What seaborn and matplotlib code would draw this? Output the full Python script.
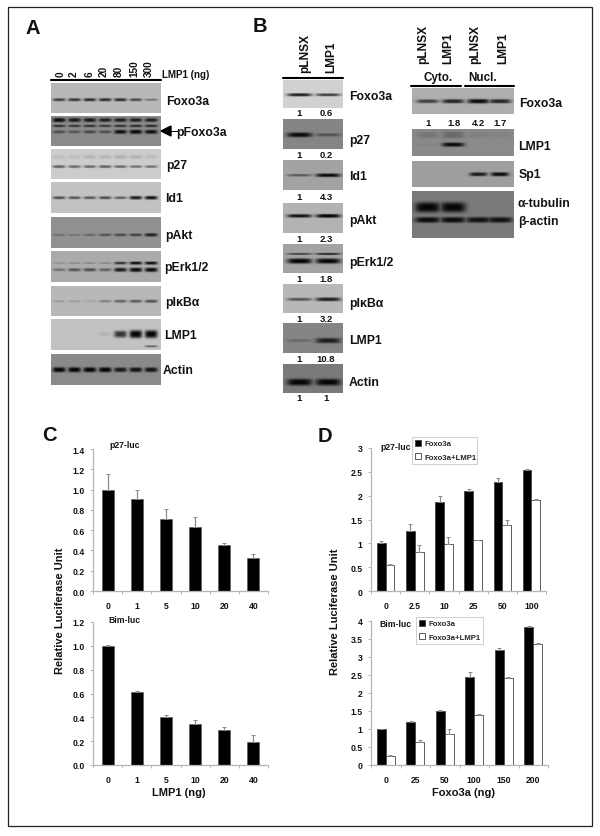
import numpy as np
import pandas as pd
import seaborn as sns
import matplotlib
matplotlib.use('Agg')
import matplotlib.pyplot as plt
from matplotlib.patches import Rectangle, Polygon
from matplotlib.lines import Line2D

W, H = 600, 837

#-----chart values--------------------------------------------------------
lmp1_doses = ['0', '1', '5', '10', '20', '40']
c_p27 = [1.0, 0.91, 0.71, 0.635, 0.45, 0.33]
c_p27_err = [0.15, 0.09, 0.10, 0.09, 0.02, 0.03]
c_bim = [1.0, 0.61, 0.405, 0.345, 0.295, 0.195]
c_bim_err = [0.005, 0.01, 0.015, 0.03, 0.025, 0.06]

d_p27_doses = ['0', '2.5', '10', '25', '50', '100']
d_p27_foxo = [1.0, 1.26, 1.87, 2.1, 2.28, 2.53]
d_p27_foxo_err = [0.04, 0.14, 0.13, 0.05, 0.09, 0.03]
d_p27_lmp = [0.54, 0.81, 0.98, 1.06, 1.38, 1.91]
d_p27_lmp_err = [0.02, 0.16, 0.15, 0.02, 0.10, 0.02]

d_bim_doses = ['0', '25', '50', '100', '150', '200']
d_bim_foxo = [1.0, 1.2, 1.5, 2.44, 3.19, 3.82]
d_bim_foxo_err = [0.01, 0.02, 0.03, 0.15, 0.06, 0.03]
d_bim_lmp = [0.26, 0.63, 0.86, 1.38, 2.43, 3.37]
d_bim_lmp_err = [0.03, 0.06, 0.13, 0.03, 0.02, 0.01]

#-----blot values: band darkness per lane----------------------------------
a_lanes = [0.07, 0.21, 0.35, 0.49, 0.63, 0.77, 0.91]
a_lane_labels = ['0', '2', '6', '20', '80', '150', '300']
a_foxo3a = [0.65, 0.7, 0.75, 0.75, 0.75, 0.6, 0.35]
a_pfoxo_top = [0.95, 0.85, 0.85, 0.8, 0.8, 0.8, 0.8]
a_pfoxo_mid = [0.65, 0.6, 0.65, 0.6, 0.65, 0.7, 0.7]
a_pfoxo_low = [0.45, 0.4, 0.5, 0.45, 0.9, 0.95, 0.9]
a_p27 = [0.55, 0.5, 0.5, 0.55, 0.5, 0.45, 0.45]
a_p27_faint = [0.08, 0.08, 0.12, 0.12, 0.14, 0.12, 0.08]
a_id1 = [0.6, 0.55, 0.55, 0.6, 0.5, 0.85, 0.9]
a_pakt = [0.25, 0.22, 0.3, 0.45, 0.5, 0.55, 0.8]
a_perk_top = [0.15, 0.18, 0.2, 0.2, 0.7, 0.9, 0.9]
a_perk_low = [0.35, 0.5, 0.55, 0.45, 0.85, 0.95, 0.95]
a_pikb = [0.15, 0.15, 0.1, 0.3, 0.45, 0.5, 0.55]
a_lmp1 = [0.0, 0.0, 0.0, 0.08, 0.75, 1.0, 1.0]
a_lmp1_low = [0.0, 0.0, 0.0, 0.0, 0.0, 0.0, 0.45]
a_actin = [1.0, 1.0, 1.0, 1.0, 0.85, 0.9, 0.9]

b_lanes = [0.27, 0.75]
b_foxo3a = [0.85, 0.7]
b_p27 = [0.95, 0.4]
b_id1 = [0.45, 0.95]
b_pakt = [0.9, 1.0]
b_perk_top = [0.6, 0.75]
b_perk_low = [1.0, 1.0]
b_pikb = [0.55, 0.85]
b_lmp1 = [0.2, 0.8]
b_actin = [1.0, 1.0]
b_numbers = [['1', '0.6'], ['1', '0.2'], ['1', '4.3'], ['1', '2.3'],
             ['1', '1.8'], ['1', '3.2'], ['1', '10.8'], ['1', '1']]

f_lanes = [0.15, 0.40, 0.65, 0.86]
f_foxo3a = [0.65, 0.8, 0.95, 0.8]
f_numbers = ['1', '1.8', '4.2', '1.7']
f_lmp1 = [0.05, 0.95, 0.0, 0.0]
f_lmp1_faint = [0.15, 0.25, 0.08, 0.05]
f_sp1 = [0.0, 0.0, 0.85, 0.95]
f_tubulin = [1.0, 1.0, 0.0, 0.0]
f_actin = [0.95, 0.95, 0.9, 0.9]

sns.set_theme(style='white')
plt.rcParams['font.family'] = ['Liberation Sans', 'DejaVu Sans']
plt.rcParams['font.weight'] = 'bold'

fig = plt.figure(figsize=(W / 100, H / 100), dpi=100)


def px_axes(x0, y0, x1, y1):
    return fig.add_axes([x0 / W, 1 - y1 / H, (x1 - x0) / W, (y1 - y0) / H])


def label(x, y, s, size=8.8, ha='left', va='center', rotation=0):
    fig.text(x / W, 1 - y / H, s, fontsize=size, fontweight='bold', ha=ha, va=va,
             rotation=rotation, color='#111111')


def rule(x0, x1, y, lw=1.5):
    fig.add_artist(Line2D([x0 / W, x1 / W], [1 - y / H, 1 - y / H], color='black', lw=lw))


def blot(box, bg, lanes, bands, lane_w=0.058):
    # bands: (height in the panel, thickness, darkness per lane)
    x0, y0, x1, y1 = box
    nx, ny = (x1 - x0) * 2, (y1 - y0) * 2
    xx, yy = np.meshgrid(np.linspace(0, 1, nx), np.linspace(0, 1, ny))
    dark = np.zeros_like(xx)
    for pos, thick, levels in bands:
        for lane, level in zip(lanes, levels):
            t = 0.7 * thick * (0.6 + 0.7 * level)
            g = np.exp(-((xx - lane) / lane_w) ** 4) * np.exp(-np.abs((yy - pos) / t) ** 3)
            dark = np.maximum(dark, level * g)
    img = bg * (1 - dark) + 0.02
    ax = px_axes(*box)
    sns.heatmap(img, ax=ax, cmap='gray', vmin=0, vmax=1, cbar=False,
                xticklabels=False, yticklabels=False)
    return ax


#-----panel A--------------------------------------------------------------
a_x = (51, 161)
blot((*a_x[:1], 84, a_x[1], 114), 0.70, a_lanes, [(0.55, 0.07, a_foxo3a)])
blot((a_x[0], 117, a_x[1], 147), 0.52, a_lanes,
     [(0.12, 0.08, a_pfoxo_top), (0.32, 0.06, a_pfoxo_mid), (0.52, 0.08, a_pfoxo_low)])
blot((a_x[0], 150, a_x[1], 180), 0.78, a_lanes,
     [(0.25, 0.14, a_p27_faint), (0.58, 0.07, a_p27)])
blot((a_x[0], 183, a_x[1], 214), 0.74, a_lanes, [(0.5, 0.07, a_id1)])
blot((a_x[0], 218, a_x[1], 249), 0.55, a_lanes, [(0.57, 0.07, a_pakt)])
blot((a_x[0], 252, a_x[1], 283), 0.65, a_lanes,
     [(0.38, 0.06, a_perk_top), (0.6, 0.08, a_perk_low)])
blot((a_x[0], 287, a_x[1], 317), 0.70, a_lanes, [(0.5, 0.08, a_pikb)])
blot((a_x[0], 320, a_x[1], 351), 0.74, a_lanes,
     [(0.48, 0.14, a_lmp1), (0.88, 0.06, a_lmp1_low)])
blot((a_x[0], 355, a_x[1], 386), 0.52, a_lanes, [(0.5, 0.09, a_actin)])

rule(51, 161, 81)
for x, s in zip([61, 74, 90, 104, 119, 134, 149], a_lane_labels):
    label(x, 77, s, size=7.2, ha='center', va='bottom', rotation=90)
label(162, 75, 'LMP1 (ng)', size=7)
for x, y, s in [(166, 102, 'Foxo3a'), (176, 133, 'pFoxo3a'), (166, 166, 'p27'),
                (165, 199, 'Id1'), (165, 236, 'pAkt'), (164, 268, 'pErk1/2'),
                (165, 303, 'pI\u03baB\u03b1'), (164, 336, 'LMP1'), (163, 371, 'Actin')]:
    label(x, y, s)
fig.add_artist(Polygon([[161 / W, 1 - 132 / H], [171 / W, 1 - 127 / H], [171 / W, 1 - 137 / H]],
                       closed=True, color='black', transform=fig.transFigure))
rule(170, 178, 132, lw=0.7)

#-----panel B left---------------------------------------------------------
b_x = (283, 343)
b_boxes = [(81, 109), (120, 150), (161, 191), (204, 234), (245, 274), (285, 314), (324, 354), (365, 394)]
b_bgs = [0.80, 0.50, 0.62, 0.68, 0.62, 0.70, 0.50, 0.46]
b_bands = [[(0.52, 0.07, b_foxo3a)], [(0.52, 0.09, b_p27)], [(0.5, 0.07, b_id1)],
           [(0.42, 0.07, b_pakt)], [(0.33, 0.05, b_perk_top), (0.58, 0.1, b_perk_low)],
           [(0.52, 0.08, b_pikb)], [(0.58, 0.11, b_lmp1)], [(0.62, 0.13, b_actin)]]
for (y0, y1), bg, bands in zip(b_boxes, b_bgs, b_bands):
    blot((b_x[0], y0, b_x[1], y1), bg, b_lanes, bands, lane_w=0.21)
rule(283, 343, 79)
label(305, 73, 'pLNSX', size=8.6, ha='center', va='bottom', rotation=90)
label(331, 73, 'LMP1', size=8.6, ha='center', va='bottom', rotation=90)
for y, s in [(97, 'Foxo3a'), (141, 'p27'), (177, 'Id1'), (221, 'pAkt'), (263, 'pErk1/2'),
             (304, 'pI\u03baB\u03b1'), (341, 'LMP1'), (383, 'Actin')]:
    label(349, y, s)
for y, row in zip([114, 156, 198, 239, 280, 319, 360, 399], b_numbers):
    label(299, y, row[0], size=6.8, ha='center')
    label(326, y, row[1], size=6.8, ha='center')

#-----panel B right--------------------------------------------------------
f_x = (412, 514)
blot((f_x[0], 89, f_x[1], 115), 0.66, f_lanes, [(0.5, 0.1, f_foxo3a)], lane_w=0.11)
blot((f_x[0], 130, f_x[1], 157), 0.52, f_lanes,
     [(0.2, 0.25, f_lmp1_faint), (0.57, 0.09, f_lmp1)], lane_w=0.11)
blot((f_x[0], 162, f_x[1], 188), 0.60, f_lanes, [(0.5, 0.09, f_sp1)], lane_w=0.09)
blot((f_x[0], 192, f_x[1], 239), 0.46, f_lanes,
     [(0.34, 0.12, f_tubulin), (0.61, 0.07, f_actin)], lane_w=0.125)
rule(411, 461, 87)
rule(465, 514, 87)
for x, s in zip([423, 448, 475, 503], ['pLNSX', 'LMP1', 'pLNSX', 'LMP1']):
    label(x, 64, s, size=8.6, ha='center', va='bottom', rotation=90)
label(438, 78, 'Cyto.', size=8.4, ha='center')
label(483, 78, 'Nucl.', size=8.4, ha='center')
for x, s in zip([428, 454, 478, 500], f_numbers):
    label(x, 124, s, size=6.8, ha='center')
for x, y, s in [(519, 104, 'Foxo3a'), (518, 147, 'LMP1'), (519, 175, 'Sp1'),
                (518, 204, '\u03b1-tubulin'), (518, 222, '\u03b2-actin')]:
    label(x, y, s)

label(26, 29, 'A', size=14.5)
label(253, 26, 'B', size=14.5)
label(42, 436, 'C', size=14.5)
label(318, 437, 'D', size=14.5)

#-----bar charts------------------------------------------------------------
AXIS_GREY = '#b5b5b5'
ERR_GREY = '#8c8c8c'


def style_bar_axes(ax, ymax, ticks, ticklabels):
    ax.set_ylim(0, ymax)
    ax.set_xlim(-0.5, 5.5)
    ax.set_yticks(ticks, ticklabels)
    ax.set_xlabel('')
    ax.set_ylabel('')
    sns.despine(ax=ax)
    for side in ['left', 'bottom']:
        ax.spines[side].set_color(AXIS_GREY)
        ax.spines[side].set_linewidth(0.9)
    # ticks sit between the categories on the x axis, as in a spreadsheet chart
    ax.set_xticks(np.arange(-0.5, 6), minor=True)
    ax.tick_params(axis='x', which='minor', length=2, color=AXIS_GREY, width=0.7, bottom=True)
    ax.tick_params(axis='x', which='major', length=0, pad=7, labelsize=6.2)
    ax.tick_params(axis='y', length=2, color=AXIS_GREY, width=0.7, left=True, pad=4, labelsize=6.2)
    for t in ax.get_xticklabels() + ax.get_yticklabels():
        t.set_fontweight('bold')
        t.set_color('#111111')


def add_err(ax, bars, err):
    xs = [b.get_x() + b.get_width() / 2 for b in bars]
    ys = [b.get_height() for b in bars]
    ax.errorbar(xs, ys, yerr=[np.zeros(len(err)), err], fmt='none', ecolor=ERR_GREY,
                elinewidth=0.9, capsize=1.3, capthick=0.7, zorder=1)


def single_bars(box, doses, vals, errs, ymax, ticks, ticklabels):
    ax = px_axes(*box)
    df = pd.DataFrame({'dose': doses, 'value': vals})
    sns.barplot(x='dose', y='value', data=df, ax=ax, color='black', width=0.41,
                saturation=1, errorbar=None, edgecolor='#555555', linewidth=0.4)
    style_bar_axes(ax, ymax, ticks, ticklabels)
    add_err(ax, ax.containers[0], errs)
    return ax


def paired_bars(box, doses, foxo, foxo_err, lmp, lmp_err, ymax, ticks, ticklabels, legend_box):
    ax = px_axes(*box)
    df = pd.DataFrame({'dose': doses * 2, 'value': foxo + lmp,
                       'series': ['Foxo3a'] * 6 + ['Foxo3a+LMP1'] * 6})
    sns.barplot(x='dose', y='value', hue='series', data=df, ax=ax, width=0.6, gap=0,
                palette={'Foxo3a': 'black', 'Foxo3a+LMP1': 'white'}, saturation=1,
                errorbar=None, edgecolor='#444444', linewidth=0.6)
    style_bar_axes(ax, ymax, ticks, ticklabels)
    add_err(ax, ax.containers[0], foxo_err)
    add_err(ax, ax.containers[1], lmp_err)
    leg = ax.legend(loc='lower left', bbox_to_anchor=legend_box, bbox_transform=fig.transFigure,
                    mode='expand', title=None, fontsize=5.6, frameon=True, fancybox=False,
                    edgecolor='#c8c8c8', handlelength=0.75, handleheight=0.75, handletextpad=0.5,
                    labelspacing=0.75, borderpad=0.4, borderaxespad=0, framealpha=1)
    leg.get_frame().set_linewidth(0.6)
    for t in leg.get_texts():
        t.set_fontweight('bold')
    return ax


single_bars((93, 450, 268, 592), lmp1_doses, c_p27, c_p27_err, 1.4,
            [0, 0.2, 0.4, 0.6, 0.8, 1.0, 1.2, 1.4],
            ['0.0', '0.2', '0.4', '0.6', '0.8', '1.0', '1.2', '1.4'])
single_bars((93, 623, 268, 766), lmp1_doses, c_bim, c_bim_err, 1.2,
            [0, 0.2, 0.4, 0.6, 0.8, 1.0, 1.2],
            ['0.0', '0.2', '0.4', '0.6', '0.8', '1.0', '1.2'])
paired_bars((371, 449, 546, 592), d_p27_doses, d_p27_foxo, d_p27_foxo_err, d_p27_lmp, d_p27_lmp_err,
            3, [0, 0.5, 1, 1.5, 2, 2.5, 3], ['0', '0.5', '1', '1.5', '2', '2.5', '3'],
            (412 / W, 1 - 465 / H, 65 / W, 26 / H))
paired_bars((371, 622, 548, 766), d_bim_doses, d_bim_foxo, d_bim_foxo_err, d_bim_lmp, d_bim_lmp_err,
            4, [0, 0.5, 1, 1.5, 2, 2.5, 3, 3.5, 4],
            ['0', '0.5', '1', '1.5', '2', '2.5', '3', '3.5', '4'],
            (416 / W, 1 - 645 / H, 67 / W, 27 / H))

label(109, 446, 'p27-luc', size=6.2)
label(108, 621, 'Bim-luc', size=6.2)
label(380, 447, 'p27-luc', size=6.2)
label(379, 625, 'Bim-luc', size=6.2)
label(60, 611, 'Relative Luciferase Unit', size=8, ha='center', rotation=90)
label(335, 612, 'Relative Luciferase Unit', size=8, ha='center', rotation=90)
label(179, 793, 'LMP1 (ng)', size=8, ha='center')
label(464, 793, 'Foxo3a (ng)', size=8, ha='center')

# outer frame of the figure
fig.add_artist(Rectangle((8 / W, 1 - 827 / H), 584 / W, 819 / H, fill=False, edgecolor='#222222',
                         lw=0.9, transform=fig.transFigure))

fig.savefig('out.png', dpi=100)
